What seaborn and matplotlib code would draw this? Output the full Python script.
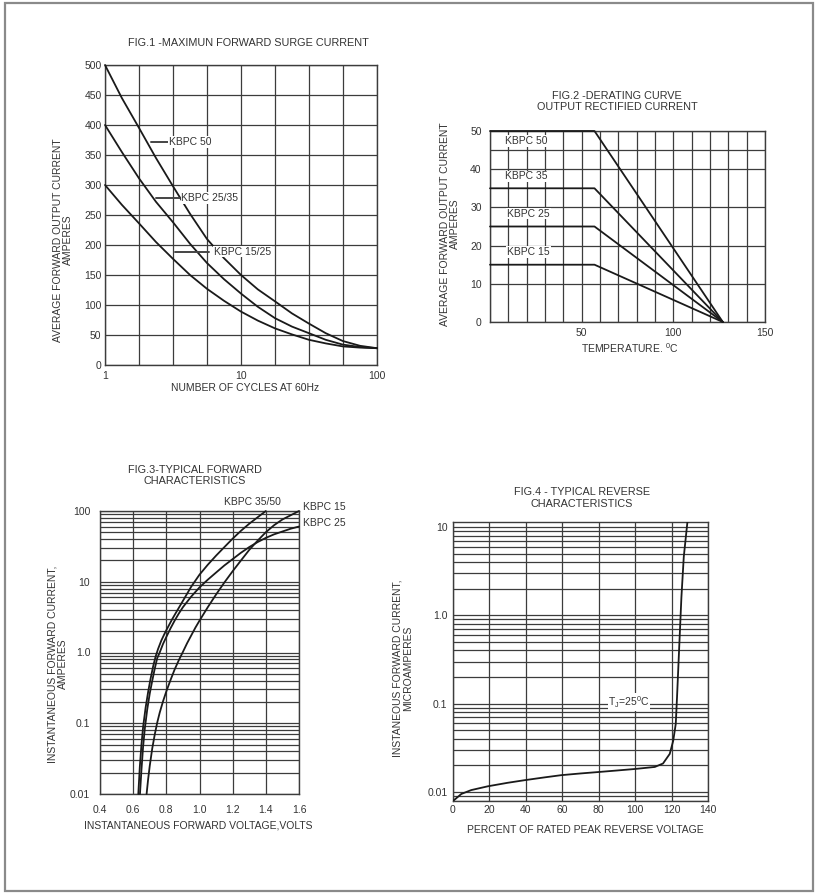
import matplotlib
matplotlib.use("Agg")
import matplotlib.pyplot as plt
import matplotlib.ticker as mticker
from matplotlib.patches import Rectangle
import seaborn as sns

# =============================================================================
# DATA
# =============================================================================
# Fig.1 - maximum forward surge current vs number of cycles at 60Hz
cycles = [1, 1.33, 1.78, 2.37, 3.16, 4.22, 5.62, 7.5, 10, 13.3, 17.8, 23.7, 31.6, 42, 56, 75, 100]
surge_kbpc50 = [500, 445, 395, 345, 298, 252, 210, 178, 150, 126, 106, 86, 69, 53, 40, 32, 28]
surge_kbpc2535 = [400, 355, 311, 272, 238, 202, 170, 143, 119, 97, 78, 64, 53, 42, 34, 30, 28]
surge_kbpc1525 = [300, 267, 236, 205, 177, 150, 127, 107, 89, 74, 61, 51, 42, 36, 31, 29, 28]
surge_labels = ["KBPC 50", "KBPC 25/35", "KBPC 15/25"]
surge_label_y = [372, 278, 189]
surge_leader_x = [(2.18, 2.9), (2.38, 3.57), (3.27, 5.84)]
surge_text_x = [2.95, 3.65, 6.3]
surge_yticks = [0, 50, 100, 150, 200, 250, 300, 350, 400, 450, 500]
surge_xticks = [1, 10, 100]
surge_xgrid = [1.78, 3.16, 5.62, 17.8, 31.6, 56.2]

# Fig.2 - derating curve
derate_temp = [0, 57, 127]
derate_kbpc50 = [50, 50, 0]
derate_kbpc35 = [35, 35, 0]
derate_kbpc25 = [25, 25, 0]
derate_kbpc15 = [15, 15, 0]
derate_labels = ["KBPC 50", "KBPC 35", "KBPC 25", "KBPC 15"]
derate_label_x = [8.2, 8.2, 9.3, 9.3]
derate_label_y = [47.4, 38.1, 28.4, 18.3]
derate_xticks = [50, 100, 150]
derate_yticks = [0, 10, 20, 30, 40, 50]
derate_ygrid_extra = [45]

# Fig.3 - typical forward characteristics (current in A)
vf_a = [0.631, 0.640, 0.650, 0.660, 0.675, 0.690, 0.705, 0.720, 0.735, 0.750, 0.770, 0.790,
        0.810, 0.835, 0.860, 0.890, 0.920, 0.950, 1.000, 1.050, 1.100, 1.150, 1.200, 1.250,
        1.300, 1.350, 1.400]
if_a = [0.010, 0.024, 0.050, 0.089, 0.166, 0.275, 0.427, 0.631, 0.871, 1.12, 1.48, 1.86,
        2.29, 2.95, 3.72, 4.90, 6.46, 8.51, 12.6, 17.4, 23.4, 30.9, 40.7, 52.5,
        66.1, 81.3, 100]
vf_b = [0.641, 0.650, 0.660, 0.670, 0.685, 0.700, 0.715, 0.730, 0.745, 0.760, 0.780, 0.800,
        0.825, 0.850, 0.875, 0.900, 0.950, 1.000, 1.050, 1.100, 1.150, 1.200, 1.250, 1.300,
        1.350, 1.400, 1.450, 1.500, 1.550, 1.600]
if_b = [0.010, 0.022, 0.047, 0.083, 0.158, 0.263, 0.398, 0.589, 0.832, 1.00, 1.32, 1.66,
        2.19, 2.82, 3.55, 4.37, 6.17, 8.32, 10.7, 13.5, 17.0, 20.9, 25.7, 30.9,
        36.3, 41.7, 46.8, 51.3, 56.2, 60.3]
vf_c = [0.681, 0.690, 0.700, 0.715, 0.730, 0.745, 0.760, 0.780, 0.800, 0.825, 0.850, 0.875,
        0.900, 0.925, 0.950, 0.975, 1.000, 1.050, 1.100, 1.150, 1.200, 1.250, 1.300, 1.350,
        1.400, 1.450, 1.500, 1.550, 1.600]
if_c = [0.010, 0.016, 0.025, 0.044, 0.069, 0.102, 0.141, 0.204, 0.282, 0.407, 0.575, 0.776,
        1.02, 1.35, 1.74, 2.24, 2.82, 4.37, 6.61, 9.77, 14.1, 20.0, 28.2, 38.0,
        50.1, 63.1, 75.9, 87.1, 100]
fwd_xticks = [0.4, 0.6, 0.8, 1.0, 1.2, 1.4, 1.6]
fwd_xticklabels = ["0.4", "0.6", "0.8", "1.0", "1.2", "1.4", "1.6"]
fwd_yticks = [0.01, 0.1, 1, 10, 100]
fwd_yticklabels = ["0.01", "0.1", "1.0", "10", "100"]

# Fig.4 - typical reverse characteristics (current in uA)
vr_pct = [0, 4.6, 10, 19.2, 30, 39.4, 50, 59.5, 70, 79.6, 90, 99.8, 110.8, 115.3, 119,
          120.9, 122.3, 123, 124.2, 125.4, 126.7, 128.7]
ir_ua = [0.0079, 0.0095, 0.0105, 0.0116, 0.0127, 0.0136, 0.0146, 0.0155, 0.0162, 0.0168, 0.0175,
         0.0182, 0.0192, 0.021, 0.027, 0.038, 0.059, 0.119, 0.44, 1.6, 4.6, 11.4]
rev_xticks = [0, 20, 40, 60, 80, 100, 120, 140]
rev_yticks = [0.01, 0.1, 1, 10]
rev_yticklabels = ["0.01", "0.1", "1.0", "10"]

# =============================================================================
# STYLE
# =============================================================================
sns.set_theme(style="white")
plt.rcParams['font.family'] = ['Liberation Sans', 'DejaVu Sans']

INK = '#1a1a1a'
GRID = '#3c3c3c'
TXT = '#333333'
FS = 7.5
W, H = 818, 894


def fx(x):
    return x / W


def fy(y):
    return 1 - y / H


def make_axes(fig, left, top, right, bottom):
    ax = fig.add_axes([fx(left), fy(bottom), (right - left) / W, (bottom - top) / H])
    for s in ax.spines.values():
        s.set_color(GRID)
        s.set_linewidth(1.0)
    ax.set_axisbelow(True)
    return ax


def curve(ax, x, y, clip=False):
    sns.lineplot(x=x, y=y, ax=ax, color=INK, linewidth=1.3, sort=False,
                 estimator=None, clip_on=clip, zorder=3)


fig = plt.figure(figsize=(W / 100, H / 100), dpi=100)
fig.add_artist(Rectangle((fx(5), fy(891)), 808 / W, 888 / H, transform=fig.transFigure,
                         fill=False, edgecolor='#8a8a8a', linewidth=1.6))

# =============================================================================
# FIG.1
# =============================================================================
ax1 = make_axes(fig, 105, 65, 377, 365)
ax1.set_xscale('log')
for ys in (surge_kbpc50, surge_kbpc2535, surge_kbpc1525):
    curve(ax1, cycles, ys)
ax1.set_xlim(1, 100)
ax1.set_ylim(0, 500)
ax1.set_xticks(surge_xticks)
ax1.set_xticklabels([str(t) for t in surge_xticks])
ax1.xaxis.set_minor_locator(mticker.FixedLocator(surge_xgrid))
ax1.xaxis.set_minor_formatter(mticker.NullFormatter())
ax1.set_yticks(surge_yticks)
ax1.grid(which='both', color=GRID, linewidth=0.9)
ax1.tick_params(which='both', length=0, labelsize=FS, labelcolor=TXT)
ax1.tick_params(axis='y', pad=2.5)
ax1.tick_params(axis='x', pad=4)
for lab, ly, (x0, x1), tx in zip(surge_labels, surge_label_y, surge_leader_x, surge_text_x):
    ax1.plot([x0, x1], [ly, ly], color='#444444', linewidth=1.4, zorder=4)
    ax1.text(tx, ly, lab, fontsize=FS, color=TXT, ha='left', va='center', zorder=5,
             bbox=dict(facecolor='white', edgecolor='none', pad=0.6))
fig.text(fx(248), fy(43), 'FIG.1 -MAXIMUN FORWARD SURGE CURRENT', fontsize=7.8, color=TXT,
         ha='center', va='center')
fig.text(fx(63), fy(240), 'AVERAGE FORWARD OUTPUT CURRENT\nAMPERES', fontsize=FS, color=TXT,
         rotation=90, ha='center', va='center', linespacing=1.0)
fig.text(fx(245), fy(388), 'NUMBER OF CYCLES AT 60Hz', fontsize=FS, color=TXT,
         ha='center', va='center')

# =============================================================================
# FIG.2
# =============================================================================
ax2 = make_axes(fig, 490, 131, 765, 322)
for ys in (derate_kbpc50, derate_kbpc35, derate_kbpc25, derate_kbpc15):
    curve(ax2, derate_temp, ys)
ax2.set_xlim(0, 150)
ax2.set_ylim(0, 50)
ax2.set_xticks(derate_xticks)
ax2.xaxis.set_minor_locator(mticker.MultipleLocator(10))
ax2.set_yticks(derate_yticks)
ax2.yaxis.set_minor_locator(mticker.FixedLocator(derate_ygrid_extra))
ax2.grid(which='both', color=GRID, linewidth=0.9)
ax2.tick_params(which='both', length=0, labelsize=FS, labelcolor=TXT)
ax2.tick_params(axis='y', pad=6)
ax2.tick_params(axis='x', pad=4)
for lab, lx, ly in zip(derate_labels, derate_label_x, derate_label_y):
    ax2.text(lx, ly, lab, fontsize=FS, color=TXT, ha='left', va='center', zorder=5,
             bbox=dict(facecolor='white', edgecolor='none', pad=0.6))
fig.text(fx(617), fy(101.5), 'FIG.2 -DERATING CURVE\nOUTPUT RECTIFIED CURRENT', fontsize=7.8,
         color=TXT, ha='center', va='center', linespacing=1.15)
fig.text(fx(450), fy(224), 'AVERAGE FORWARD OUTPUT CURRENT\nAMPERES', fontsize=FS, color=TXT,
         rotation=90, ha='center', va='center', linespacing=1.0)
fig.text(fx(630), fy(348), 'TEMPERATURE. $^\\mathregular{0}$C', fontsize=FS, color=TXT,
         ha='center', va='center')

# =============================================================================
# FIG.3
# =============================================================================
ax3 = make_axes(fig, 100, 511, 299, 794)
ax3.set_yscale('log')
for xs, ys in ((vf_a, if_a), (vf_b, if_b), (vf_c, if_c)):
    curve(ax3, xs, ys)
ax3.set_xlim(0.4, 1.6)
ax3.set_ylim(0.01, 100)
ax3.set_xticks(fwd_xticks)
ax3.set_xticklabels(fwd_xticklabels)
ax3.set_yticks(fwd_yticks)
ax3.set_yticklabels(fwd_yticklabels)
ax3.yaxis.set_minor_locator(mticker.LogLocator(base=10, subs=range(2, 10)))
ax3.yaxis.set_minor_formatter(mticker.NullFormatter())
ax3.grid(which='both', color=GRID, linewidth=0.9)
ax3.tick_params(which='both', length=0, labelsize=FS, labelcolor=TXT)
ax3.tick_params(axis='y', pad=7)
ax3.tick_params(axis='x', pad=8)
fig.text(fx(252.7), fy(501.7), 'KBPC 35/50', fontsize=FS, color=TXT, ha='center', va='center')
fig.text(fx(303), fy(506.7), 'KBPC 15', fontsize=FS, color=TXT, ha='left', va='center')
fig.text(fx(303), fy(522.7), 'KBPC 25', fontsize=FS, color=TXT, ha='left', va='center')
fig.text(fx(195), fy(475.5), 'FIG.3-TYPICAL FORWARD\nCHARACTERISTICS', fontsize=7.8, color=TXT,
         ha='center', va='center', linespacing=1.15)
fig.text(fx(58), fy(664), 'INSTANTANEOUS FORWARD CURRENT,\nAMPERES', fontsize=FS, color=TXT,
         rotation=90, ha='center', va='center', linespacing=1.0)
fig.text(fx(198), fy(825), 'INSTANTANEOUS FORWARD VOLTAGE,VOLTS', fontsize=FS, color=TXT,
         ha='center', va='center')

# =============================================================================
# FIG.4
# =============================================================================
ax4 = make_axes(fig, 453, 522, 708, 801)
ax4.set_yscale('log')
curve(ax4, vr_pct, ir_ua, clip=True)
ax4.set_xlim(0, 140)
ax4.set_ylim(0.0079, 11.4)
ax4.set_xticks(rev_xticks)
ax4.set_yticks(rev_yticks)
ax4.set_yticklabels(rev_yticklabels)
ax4.yaxis.set_minor_locator(mticker.LogLocator(base=10, subs=range(2, 10)))
ax4.yaxis.set_minor_formatter(mticker.NullFormatter())
ax4.grid(which='both', color=GRID, linewidth=0.9)
ax4.tick_params(which='both', length=0, labelsize=FS, labelcolor=TXT)
ax4.tick_params(axis='y', pad=4)
ax4.tick_params(axis='x', pad=3)
fig.text(fx(629), fy(702), 'T$_\\mathregular{J}$=25$^\\mathregular{0}$C', fontsize=7.5, color=TXT,
         ha='center', va='center', bbox=dict(facecolor='white', edgecolor='none', pad=0.5))
fig.text(fx(582), fy(498), 'FIG.4 - TYPICAL REVERSE\nCHARACTERISTICS', fontsize=7.8, color=TXT,
         ha='center', va='center', linespacing=1.15)
fig.text(fx(403), fy(668), 'INSTANEOUS FORWARD CURRENT,\nMICROAMPERES', fontsize=FS, color=TXT,
         rotation=90, ha='center', va='center', linespacing=1.0)
fig.text(fx(585), fy(830), 'PERCENT OF RATED PEAK REVERSE VOLTAGE', fontsize=FS, color=TXT,
         ha='center', va='center')

fig.savefig('out.png', dpi=100)
